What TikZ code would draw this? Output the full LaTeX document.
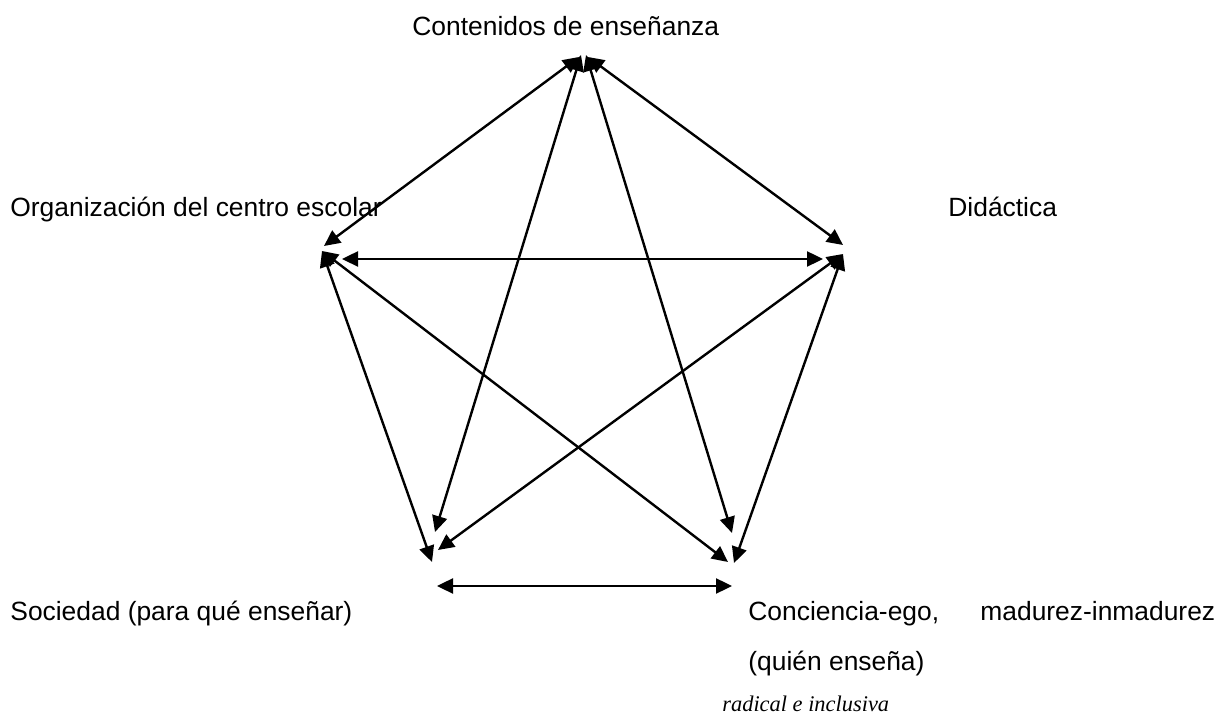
\documentclass[tikz,border=0pt]{standalone}
\usepackage{fontspec}
\setmainfont{Liberation Sans}
\newfontfamily\timesit{Liberation Serif}
\usetikzlibrary{arrows.meta}

\tikzset{
  lbl/.style={inner sep=0pt, anchor=base west, font=\fontsize{13.2}{16}\selectfont},
  link/.style={{Triangle[length=8pt,width=7.5pt]}-{Triangle[length=8pt,width=7.5pt]}, line width=1.2pt}
}

\begin{document}
\begin{tikzpicture}[x=0.5pt, y=-0.5pt]
  \useasboundingbox (0,0) rectangle (1222,715);

  % labels
  \node[lbl] (contenidos) at (412,36) {Contenidos de enseñanza};
  \node[lbl] (organizacion) at (10,217) {Organización del centro escolar};
  \node[lbl] (didactica) at (948,217) {Didáctica};
  \node[lbl] (sociedad) at (10,621) {Sociedad (para qué enseñar)};
  \node[lbl] (conciencia) at (748,621) {Conciencia-ego,};
  \node[lbl] (madurez) at (980,621) {madurez-inmadurez};
  \node[lbl] (quien) at (748,671) {(quién enseña)};
  \node[lbl, font=\fontsize{11.2}{14}\timesit\itshape] (radical) at (722,712) {radical e inclusiva};

  % arrow ends
  \coordinate (t1) at (579,57);
  \coordinate (t2) at (588,57);
  \coordinate (t3) at (581,55);
  \coordinate (t4) at (586,55);
  \coordinate (l1) at (324,246);
  \coordinate (l2) at (342,259);
  \coordinate (l3) at (322,251);
  \coordinate (r1) at (843,245);
  \coordinate (r2) at (823,259);
  \coordinate (r3) at (843,254);
  \coordinate (bl1) at (435,532);
  \coordinate (bl2) at (438,550);
  \coordinate (bl3) at (432,562);
  \coordinate (bl4) at (437,586);
  \coordinate (br1) at (732,533);
  \coordinate (br2) at (728,562);
  \coordinate (br3) at (734,563);
  \coordinate (br4) at (732,586);

  % edges
  \draw[link] (t1) -- (l1);
  \draw[link] (t2) -- (r1);
  \draw[link] (t3) -- (bl1);
  \draw[link] (t4) -- (br1);
  \draw[link] (l2) -- (r2);
  \draw[link] (l3) -- (bl3);
  \draw[link] (l3) -- (br2);
  \draw[link] (r3) -- (bl2);
  \draw[link] (r3) -- (br3);
  \draw[link] (bl4) -- (br4);
\end{tikzpicture}
\end{document}
